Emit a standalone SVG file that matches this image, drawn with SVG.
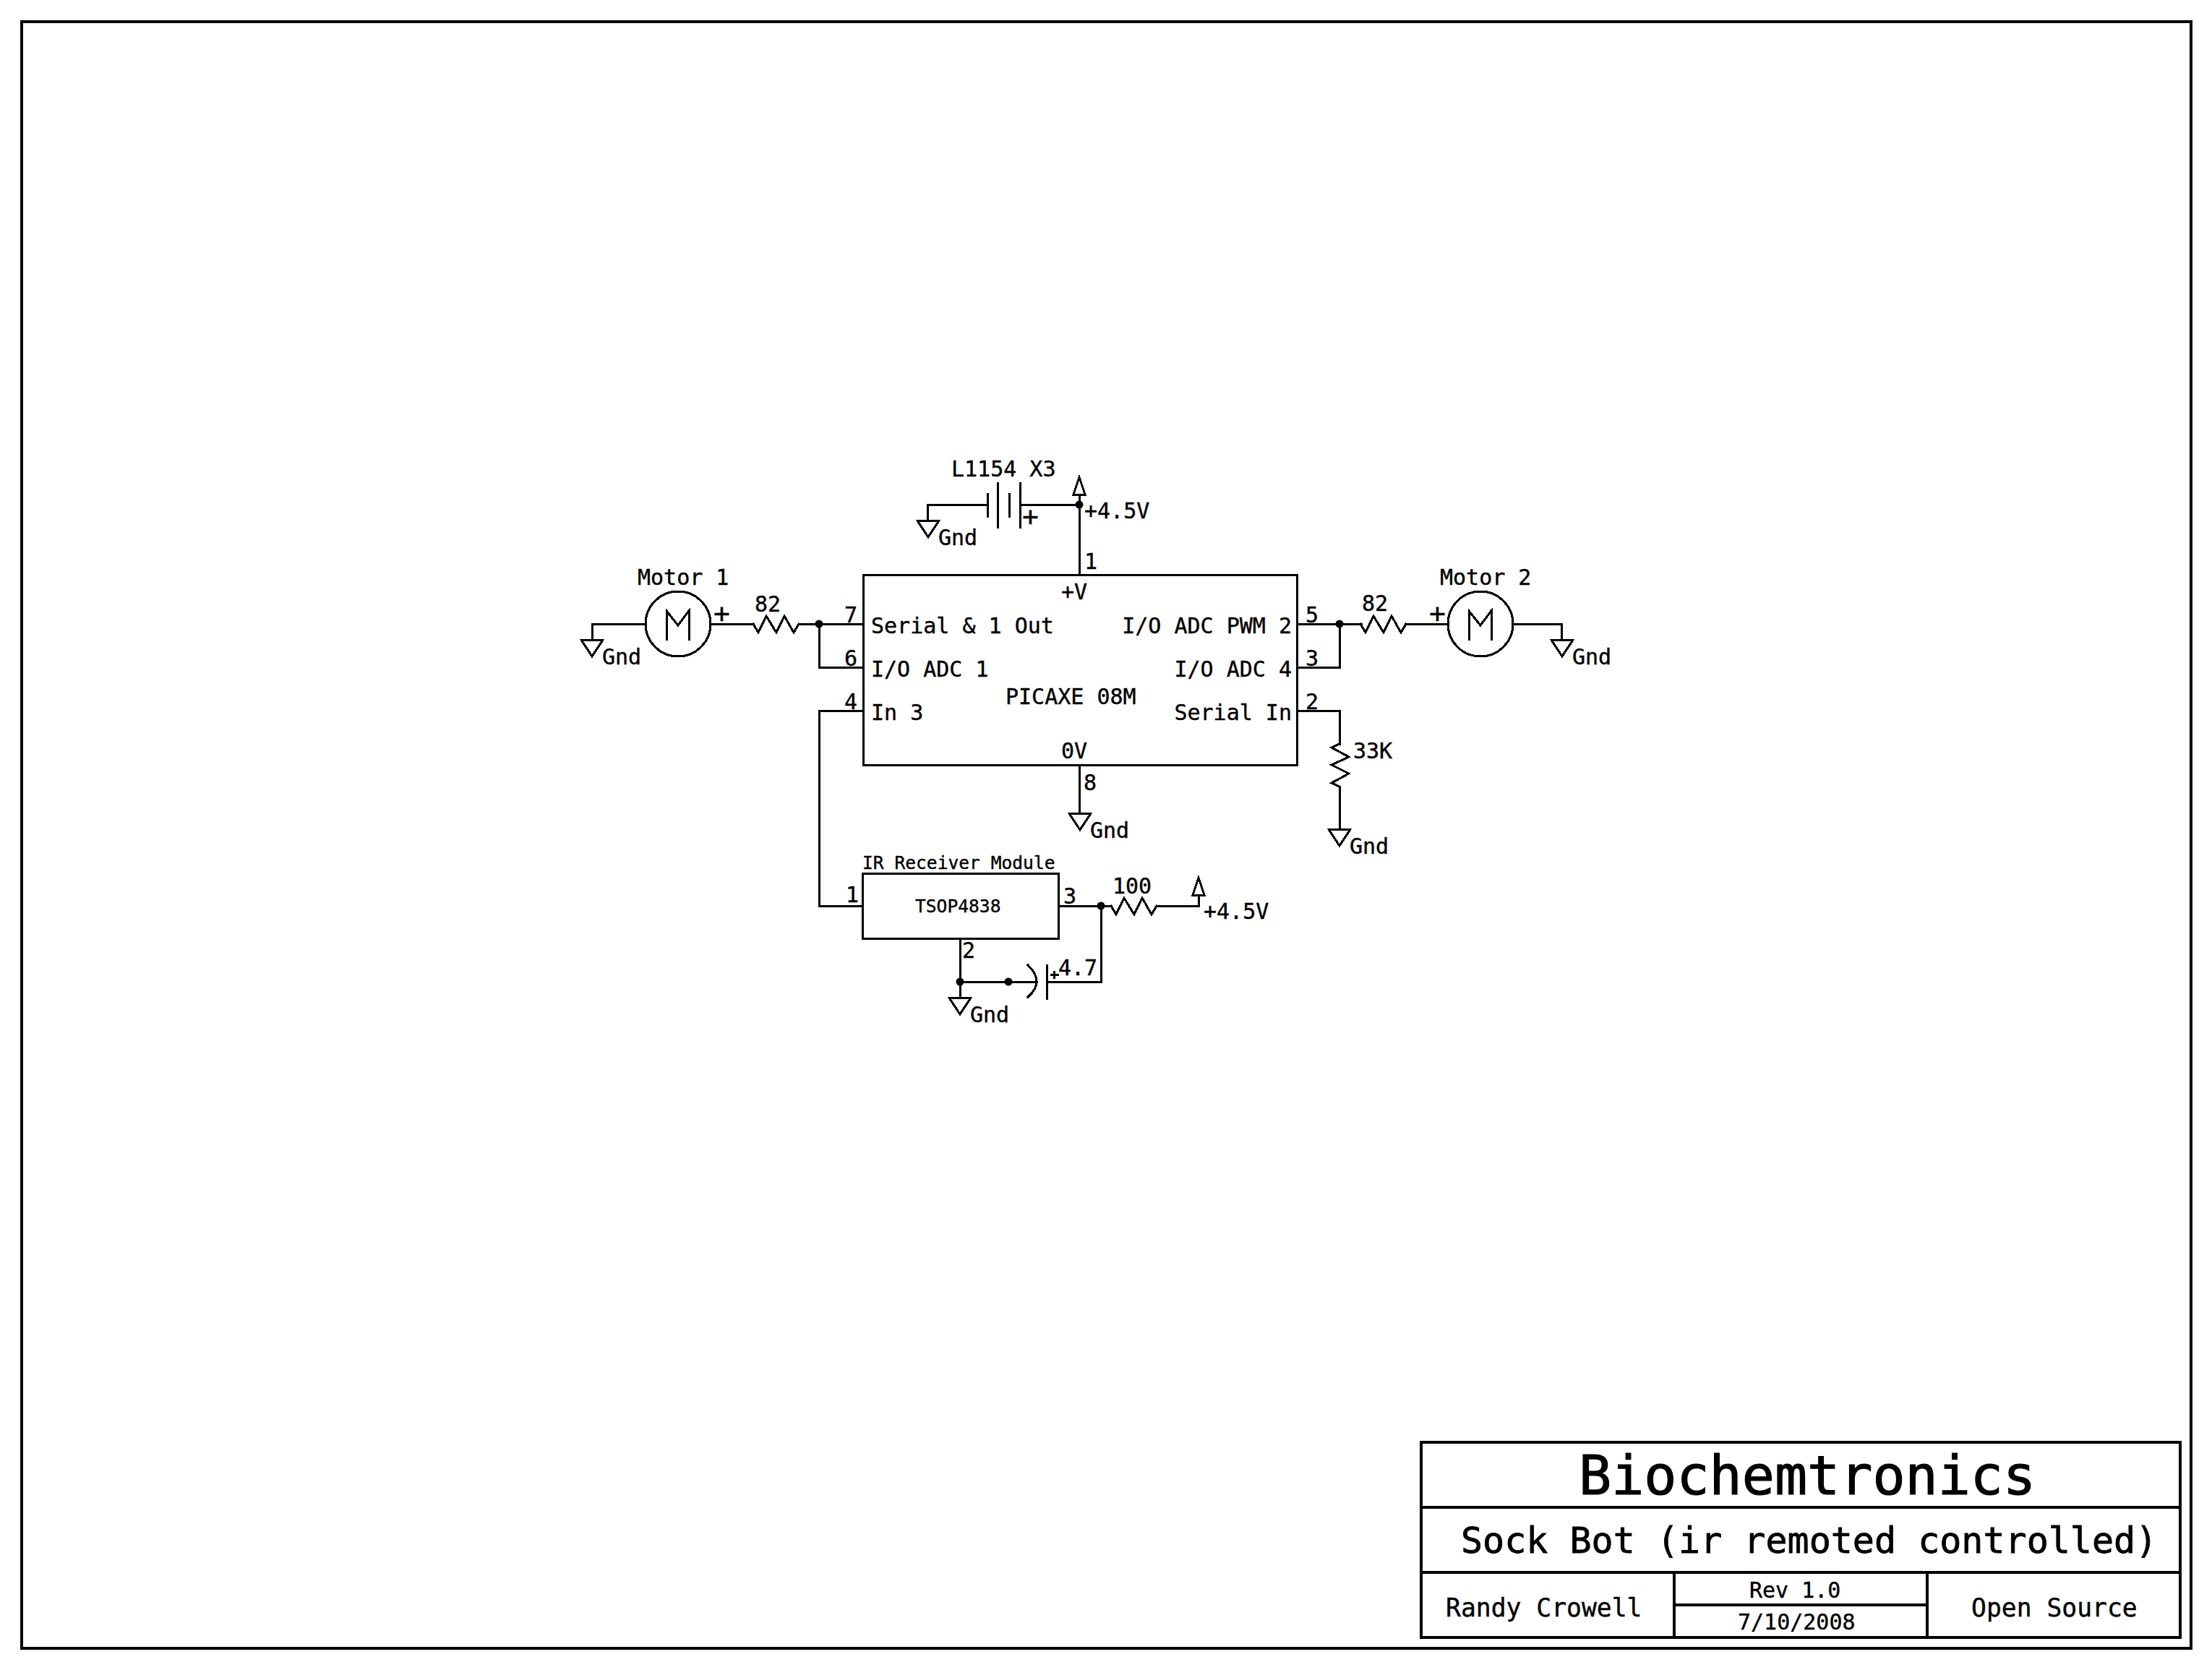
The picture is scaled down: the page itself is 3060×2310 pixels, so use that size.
<svg xmlns="http://www.w3.org/2000/svg" width="3060" height="2310" viewBox="0 0 3060 2310">
<style>
text{font-family:"DejaVu Sans Mono","Liberation Mono",monospace;fill:#000;font-size:30px;stroke:#000;stroke-width:.4;transform:translateY(1.5px)}
#title-block text{transform:none}
.s{font-size:24.6px}.m{font-size:34.7px}.l{font-size:50px;stroke-width:.8}.xl{font-size:75px;stroke-width:1.2}.p{font-size:38px}
.e{text-anchor:end}
.w{fill:none;stroke:#000;stroke-width:3;stroke-linejoin:miter;stroke-linecap:square;shape-rendering:crispEdges}
.f{fill:none;stroke:#000;stroke-width:4;shape-rendering:crispEdges}
.d{fill:#000;stroke:none}
</style>
<defs>
<g id="gnd"><path class="w" d="M-15 0H15L0 23Z"/><text x="14" y="32">Gnd</text></g>
<path id="res" class="w" d="M0 0L7 12L18 -11L32 12L43 -11L56 12L63 0"/>
<path id="vcc" class="w" d="M0 -14L-8 10H8Z"/>
<g id="mot"><circle class="w" r="45"/><path class="w" d="M-16 21V-18L0 2L15 -18V21"/></g>
</defs>

<rect id="frame" class="f" x="30" y="30" width="3001" height="2250"/>

<g id="connectors">
<path class="w" d="M1283 720V698H1366M1412 698H1493"/>
<path class="w" d="M1493 684V795"/>
<path class="w" d="M819 885V863H893M984 863H1042M1105 863H1194M1133 863V923H1194"/>
<path class="w" d="M1194 983H1133V1253H1193"/>
<path class="w" d="M1794 863H1883M1944 863H2003M1853 863V923H1794M2092 863H2160V885"/>
<path class="w" d="M1794 983H1853V1029M1853 1088V1147"/>
<path class="w" d="M1493 1058V1125"/>
<path class="w" d="M1464 1253H1537M1600 1253H1658V1238M1523 1253V1358H1448"/>
<path class="w" d="M1328 1298V1380M1328 1358H1434"/>
<circle class="d" cx="1493" cy="698" r="5.500"/>
<circle class="d" cx="1133" cy="863" r="5.500"/>
<circle class="d" cx="1853" cy="863" r="5.500"/>
<circle class="d" cx="1523" cy="1253" r="5.500"/>
<circle class="d" cx="1328" cy="1358" r="5.500"/>
<circle class="d" cx="1395" cy="1358" r="5.500"/>
</g>

<g id="battery">
<path class="w" d="M1366 683V714M1380 668V729M1396 683V714M1411 668V729"/>
<text x="1316" y="657">L1154 X3</text>
<text class="p" x="1414" y="725">+</text>
</g>
<g id="gnd-battery"><use href="#gnd" x="1284" y="720"/></g>
<g id="vcc-top"><use href="#vcc" x="1493" y="674"/><text x="1500" y="715">+4.5V</text></g>

<g id="motor1"><use href="#mot" x="938" y="863"/><text x="882" y="807">Motor 1</text><text class="p" x="987" y="859">+</text></g>
<g id="gnd-motor1"><use href="#gnd" x="819" y="885"/></g>
<g id="r1"><use href="#res" x="1042" y="863"/><text x="1044" y="844">82</text></g>

<g id="picaxe">
<rect class="w" x="1194" y="795" width="600" height="263"/>
<text x="1205" y="874">Serial &amp; 1 Out</text>
<text x="1205" y="934">I/O ADC 1</text>
<text x="1205" y="994">In 3</text>
<text x="1391" y="972">PICAXE 08M</text>
<text x="1468" y="827">+V</text>
<text x="1468" y="1047">0V</text>
<text class="e" x="1787" y="874">I/O ADC PWM 2</text>
<text class="e" x="1787" y="934">I/O ADC 4</text>
<text class="e" x="1787" y="994">Serial In</text>
<text x="1168" y="859">7</text>
<text x="1168" y="919">6</text>
<text x="1168" y="979">4</text>
<text x="1500" y="785">1</text>
<text x="1806" y="859">5</text>
<text x="1806" y="919">3</text>
<text x="1806" y="979">2</text>
<text x="1499" y="1091">8</text>
</g>
<g id="gnd-ic"><use href="#gnd" x="1494" y="1125"/></g>

<g id="r2"><use href="#res" x="1882" y="863"/><text x="1884" y="843">82</text></g>
<g id="motor2"><use href="#mot" x="2048" y="863"/><text x="1992" y="807">Motor 2</text><text class="p" x="1977" y="859">+</text></g>
<g id="gnd-motor2"><use href="#gnd" x="2161" y="885"/></g>

<g id="r3"><path class="w" d="M1853 1029L1842 1034L1866 1047L1842 1058L1866 1070L1842 1083L1853 1088"/><text x="1872" y="1047">33K</text></g>
<g id="gnd-r3"><use href="#gnd" x="1853" y="1147"/></g>

<g id="tsop">
<rect class="w" x="1193" y="1208" width="271" height="90"/>
<text class="s" x="1193" y="1200">IR Receiver Module</text>
<text class="s" x="1266" y="1260">TSOP4838</text>
<text x="1170" y="1246">1</text>
<text x="1471" y="1248">3</text>
<text x="1331" y="1323">2</text>
</g>
<g id="r4"><use href="#res" x="1537" y="1253"/><text x="1539" y="1234">100</text></g>
<g id="vcc-ir"><use href="#vcc" x="1658" y="1228"/><text x="1665" y="1269">+4.5V</text></g>
<g id="cap">
<path class="w" d="M1448 1335V1381M1422 1335Q1446 1358 1422 1379"/>
<path class="w" d="M1454 1348H1463M1458.500 1344V1352"/>
<text x="1464" y="1347">4.7</text>
</g>
<g id="gnd-cap"><use href="#gnd" x="1328" y="1380"/></g>

<g id="title-block">
<path class="f" d="M1966 1995H3016V2265H1966ZM1966 2085H3016M1966 2175H3016M2316 2175V2265M2666 2175V2265M2316 2220H2666"/>
<text class="xl" x="2184" y="2067">Biochemtronics</text>
<text class="l" x="2021" y="2148">Sock Bot (ir remoted controlled)</text>
<text class="m" x="2000" y="2236">Randy Crowell</text>
<text x="2420" y="2210">Rev 1.0</text>
<text x="2404" y="2254">7/10/2008</text>
<text class="m" x="2727" y="2236">Open Source</text>
</g>
</svg>
